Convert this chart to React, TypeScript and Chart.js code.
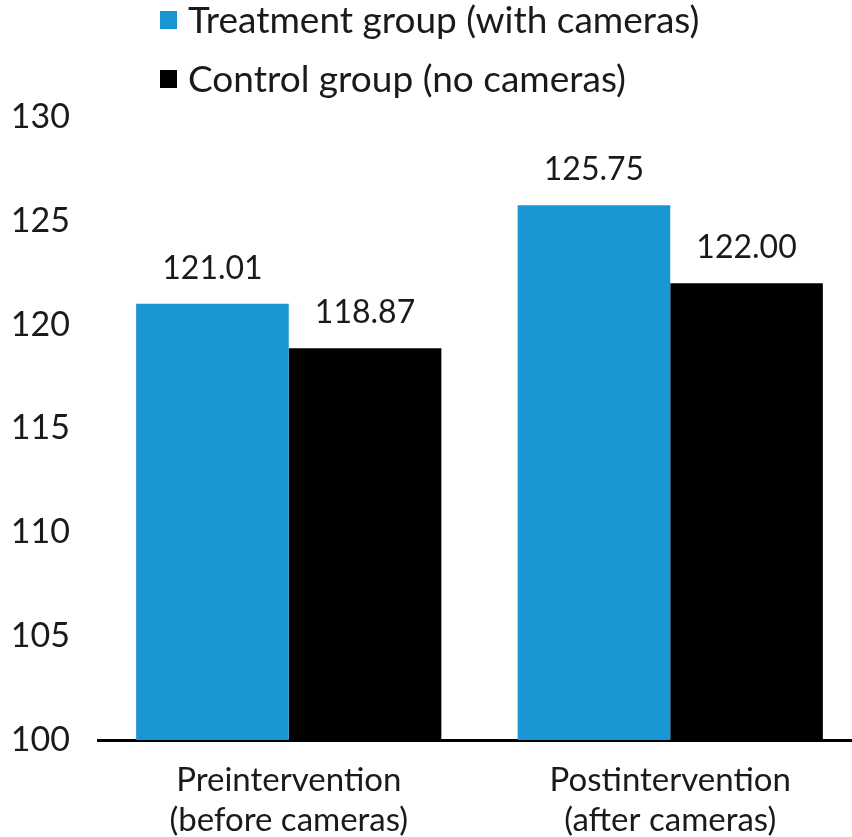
import React, { useEffect, useRef } from "react";
import { Chart, registerables } from "chart.js";

Chart.register(...registerables);

const categories: string[][] = [
  ["Preintervention", "(before cameras)"],
  ["Postintervention", "(after cameras)"],
];
const seriesNames = ["Treatment group (with cameras)", "Control group (no cameras)"];
const treatmentValues = [121.01, 125.75];
const controlValues = [118.87, 122.0];
const seriesColors = ["#1996D3", "#000000"];
const yMin = 100;
const yMax = 130;
const yStep = 5;

const FONT = "Lato, 'Open Sans', sans-serif";

// Draws each bar's value just above it
const valueLabels = {
  id: "valueLabels",
  afterDatasetsDraw(chart: any) {
    const ctx = chart.ctx;
    ctx.save();
    ctx.font = `32px ${FONT}`;
    ctx.fillStyle = "#1a1a1a";
    ctx.textAlign = "center";
    ctx.textBaseline = "alphabetic";
    chart.data.datasets.forEach((ds: any, di: number) => {
      const meta = chart.getDatasetMeta(di);
      meta.data.forEach((bar: any, i: number) => {
        ctx.fillText(Number(ds.data[i]).toFixed(2), bar.x, bar.y - 25);
      });
    });
    ctx.restore();
  },
};

// Stacked legend in the top-left corner
const stackedLegend = {
  id: "stackedLegend",
  afterDraw(chart: any) {
    const ctx = chart.ctx;
    ctx.save();
    ctx.font = `37px ${FONT}`;
    ctx.textBaseline = "middle";
    ctx.textAlign = "left";
    chart.data.datasets.forEach((ds: any, i: number) => {
      const cy = 20 + i * 59;
      ctx.fillStyle = ds.backgroundColor;
      ctx.fillRect(160, cy - 9, 17, 18);
      ctx.fillStyle = "#1a1a1a";
      ctx.fillText(ds.label, 188, cy + 1);
    });
    ctx.restore();
  },
};

export default function App() {
  const ref = useRef<HTMLCanvasElement | null>(null);

  useEffect(() => {
    if (!ref.current) return;
    const chart = new Chart(ref.current, {
      type: "bar",
      data: {
        labels: categories,
        datasets: [
          {
            label: seriesNames[0],
            data: treatmentValues,
            backgroundColor: seriesColors[0],
            categoryPercentage: 0.8,
            barPercentage: 1.0,
          },
          {
            label: seriesNames[1],
            data: controlValues,
            backgroundColor: seriesColors[1],
            categoryPercentage: 0.8,
            barPercentage: 1.0,
          },
        ],
      },
      options: {
        responsive: false,
        animation: false,
        layout: { padding: { top: 117, right: 0, left: 0, bottom: 0 } },
        plugins: {
          legend: { display: false },
          tooltip: { enabled: false },
        },
        scales: {
          x: {
            grid: { display: false, drawTicks: false },
            border: { display: true, color: "#000000", width: 3 },
            ticks: {
              color: "#1a1a1a",
              font: { family: FONT, size: 33, lineHeight: 1.2 },
              padding: 21,
              maxRotation: 0,
            },
            afterFit(scale: any) {
              scale.height = 97;
            },
          },
          y: {
            min: yMin,
            max: yMax,
            grid: { display: false, drawTicks: false },
            border: { display: false },
            ticks: {
              stepSize: yStep,
              color: "#1a1a1a",
              font: { family: FONT, size: 34 },
              padding: 28,
            },
            afterFit(scale: any) {
              scale.width = 98;
            },
          },
        },
      },
      plugins: [valueLabels, stackedLegend],
    });
    return () => chart.destroy();
  }, []);

  return (
    <div
      style={{
        position: "fixed",
        left: 0,
        top: 0,
        width: 852,
        height: 837,
        overflow: "hidden",
        background: "#ffffff",
      }}
    >
      <canvas ref={ref} width={861} height={837} style={{ display: "block" }} />
    </div>
  );
}
